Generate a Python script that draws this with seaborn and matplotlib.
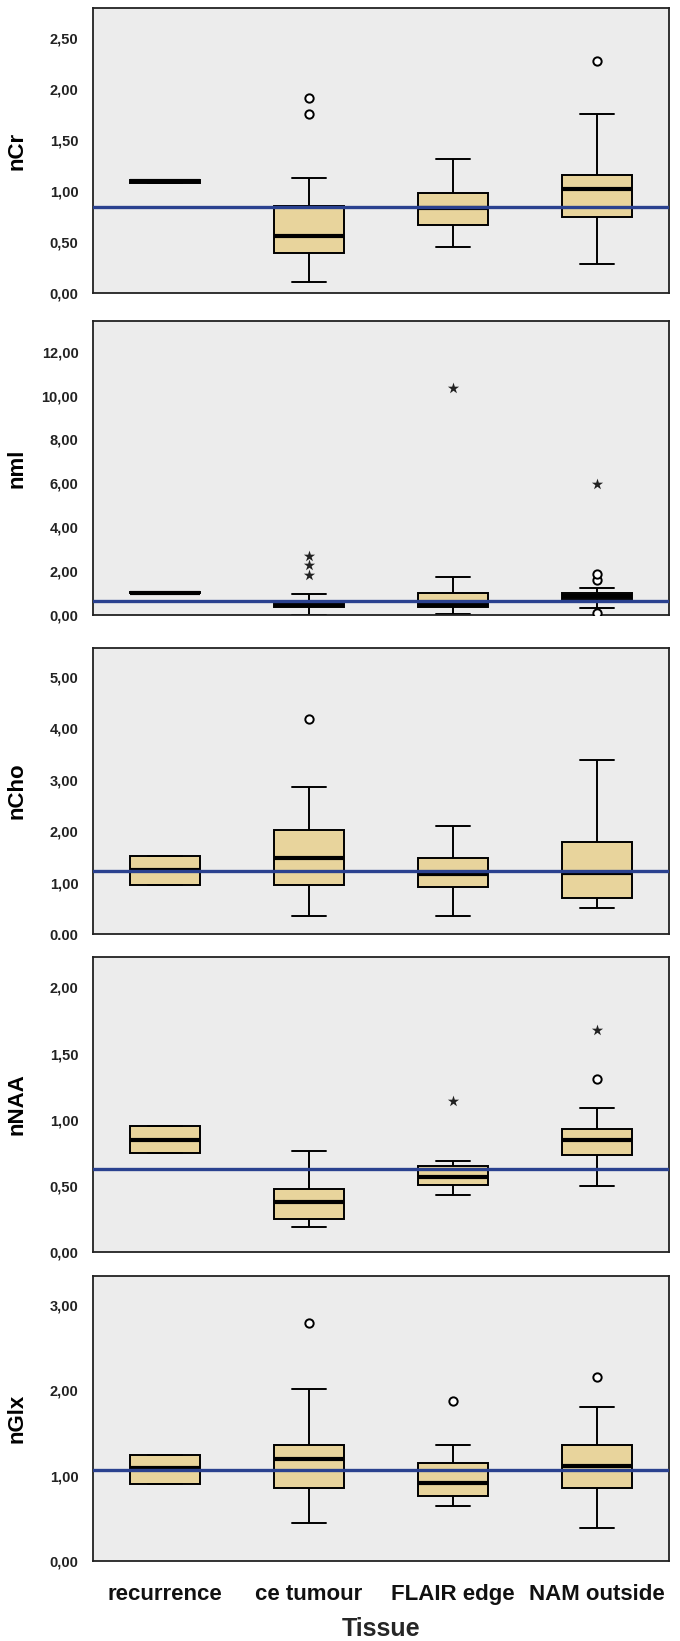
import matplotlib
matplotlib.use("Agg")
import matplotlib.pyplot as plt
import pandas as pd
import seaborn as sns

# Tissue groups on the x axis
tissues = ["recurrence", "ce tumour", "FLAIR edge", "NAM outside"]

# nCr: whisker low, Q1, median, Q3, whisker high per tissue
ncr_low = [1.08, 0.11, 0.45, 0.28]
ncr_q1 = [1.08, 0.39, 0.67, 0.745]
ncr_med = [1.095, 0.56, 0.83, 1.02]
ncr_q3 = [1.11, 0.85, 0.98, 1.16]
ncr_high = [1.11, 1.13, 1.31, 1.75]
ncr_circles = {"ce tumour": [1.75, 1.91], "NAM outside": [2.27]}
ncr_stars = {}
ncr_ref = 0.84

# nml
nml_low = [0.98, 0.02, 0.06, 0.32]
nml_q1 = [0.98, 0.36, 0.36, 0.71]
nml_med = [1.02, 0.45, 0.46, 0.86]
nml_q3 = [1.06, 0.62, 1.02, 1.02]
nml_high = [1.06, 0.94, 1.72, 1.22]
nml_circles = {"NAM outside": [0.09, 1.61, 1.88]}
nml_stars = {"ce tumour": [1.84, 2.26, 2.69], "FLAIR edge": [10.35], "NAM outside": [5.95]}
nml_ref = 0.64

# nCho
ncho_low = [0.96, 0.35, 0.35, 0.51]
ncho_q1 = [0.96, 0.96, 0.91, 0.70]
ncho_med = [1.24, 1.47, 1.16, 1.18]
ncho_q3 = [1.52, 2.03, 1.47, 1.79]
ncho_high = [1.52, 2.86, 2.09, 3.38]
ncho_circles = {"ce tumour": [4.18]}
ncho_stars = {}
ncho_ref = 1.23

# nNAA
naa_low = [0.75, 0.19, 0.43, 0.50]
naa_q1 = [0.75, 0.25, 0.51, 0.73]
naa_med = [0.85, 0.38, 0.57, 0.85]
naa_q3 = [0.95, 0.48, 0.65, 0.93]
naa_high = [0.95, 0.76, 0.69, 1.09]
naa_circles = {"NAM outside": [1.31]}
naa_stars = {"FLAIR edge": [1.14], "NAM outside": [1.68]}
naa_ref = 0.63

# nGlx
glx_low = [0.90, 0.44, 0.65, 0.39]
glx_q1 = [0.90, 0.85, 0.76, 0.86]
glx_med = [1.09, 1.19, 0.91, 1.11]
glx_q3 = [1.24, 1.36, 1.15, 1.36]
glx_high = [1.24, 2.01, 1.36, 1.81]
glx_circles = {"ce tumour": [2.79], "FLAIR edge": [1.87], "NAM outside": [2.16]}
glx_stars = {}
glx_ref = 1.07

panels = [
    ("nCr", [ncr_low, ncr_q1, ncr_med, ncr_q3, ncr_high], ncr_circles, ncr_stars, ncr_ref,
     2.79, [0, 0.5, 1.0, 1.5, 2.0, 2.5]),
    ("nml", [nml_low, nml_q1, nml_med, nml_q3, nml_high], nml_circles, nml_stars, nml_ref,
     13.4, [0, 2, 4, 6, 8, 10, 12]),
    ("nCho", [ncho_low, ncho_q1, ncho_med, ncho_q3, ncho_high], ncho_circles, ncho_stars, ncho_ref,
     5.56, [0, 1, 2, 3, 4, 5]),
    ("nNAA", [naa_low, naa_q1, naa_med, naa_q3, naa_high], naa_circles, naa_stars, naa_ref,
     2.23, [0, 0.5, 1.0, 1.5, 2.0]),
    ("nGlx", [glx_low, glx_q1, glx_med, glx_q3, glx_high], glx_circles, glx_stars, glx_ref,
     3.34, [0, 1, 2, 3]),
]

# panel top / bottom in pixels
panel_px = [(8, 293), (321, 615), (648, 934), (957, 1252), (1276, 1561)]

sns.set_style("white")
plt.rcParams["font.family"] = ["Liberation Sans", "DejaVu Sans"]

W, H = 680, 1641
fig = plt.figure(figsize=(W / 100, H / 100), dpi=100)

box_color = "#e8d49c"
ref_color = "#2a418f"
dark = "#222222"

for i, (name, stats, circles, stars, ref, ymax, yticks) in enumerate(panels):
    top, bot = panel_px[i]
    ax = fig.add_axes([93 / W, 1 - bot / H, 576 / W, (bot - top) / H])
    ax.set_facecolor("#ececec")

    rows = []
    for j, t in enumerate(tissues):
        for s in stats:
            rows.append({"tissue": t, "value": s[j]})
    df = pd.DataFrame(rows)

    sns.boxplot(data=df, x="tissue", y="value", order=tissues, whis=(0, 100),
                width=0.48, color=box_color, saturation=1, linecolor="black",
                linewidth=1.4, showfliers=False,
                medianprops={"linewidth": 3.0, "color": "black"}, ax=ax)

    crows = [{"tissue": t, "value": v} for t, vals in circles.items() for v in vals]
    if crows:
        sns.stripplot(data=pd.DataFrame(crows), x="tissue", y="value", order=tissues,
                      jitter=False, marker="o", color="white", edgecolor="black",
                      linewidth=1.4, size=6, ax=ax, zorder=6)
    srows = [{"tissue": t, "value": v} for t, vals in stars.items() for v in vals]
    if srows:
        sns.stripplot(data=pd.DataFrame(srows), x="tissue", y="value", order=tissues,
                      jitter=False, marker="*", color=dark, linewidth=0,
                      size=8.5, ax=ax, zorder=6)

    ax.axhline(ref, color=ref_color, lw=2.4, zorder=5)

    ax.set_xlim(-0.5, 3.5)
    ax.set_ylim(0, ymax)
    ax.set_yticks(yticks)
    labels = [f"{v:.2f}".replace(".", ",") for v in yticks]
    if name == "nCho":
        labels[0] = "0.00"
    ax.set_yticklabels(labels, fontsize=10.5, fontweight="bold", color=dark)
    ax.tick_params(axis="y", length=7.5, width=1.2, color=dark, pad=3)
    ax.tick_params(axis="x", length=7.5, width=1.2, color=dark, pad=9)
    for sp in ax.spines.values():
        sp.set_color(dark)
        sp.set_linewidth(1.3)

    ax.set_ylabel("")
    fig.text(17.5 / W, 1 - (top + bot) / 2 / H, name, rotation=90, ha="center", va="center",
             fontsize=16, fontweight="bold", color="black")

    if i == len(panels) - 1:
        ax.set_xticks(range(len(tissues)))
        ax.set_xticklabels(tissues, fontsize=16, fontweight="bold", color="#111111")
        ax.set_xlabel("Tissue", fontsize=18, fontweight="bold", labelpad=9)
    else:
        ax.set_xticklabels([])
        ax.set_xlabel("")

fig.savefig("out.png", dpi=100, facecolor="white")
